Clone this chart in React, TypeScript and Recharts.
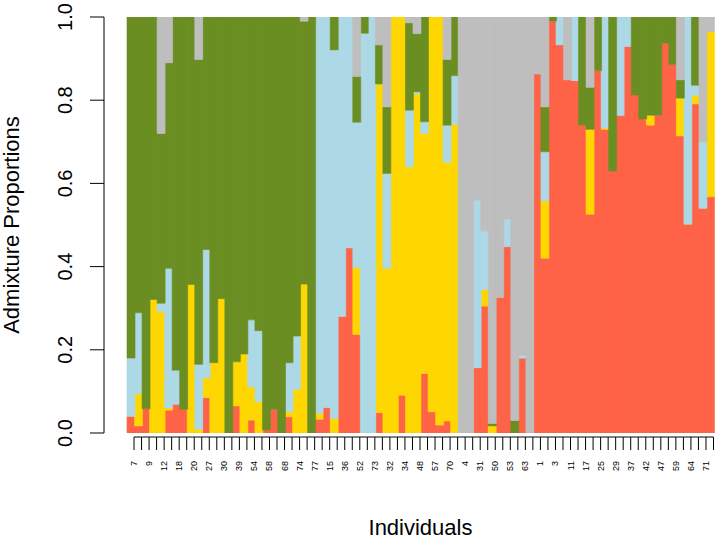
import { BarChart, Bar, XAxis, YAxis } from 'recharts';

// individual ids in plotted order (only every other one is labelled on the axis)
const ids = [
  7, 8, 9, 10, 12, 14, 18, 19, 20, 22, 27, 28, 30, 38, 39, 45, 54, 55, 58, 61, 68, 69, 74, 75, 77,
  13, 15, 21, 36, 44, 52, 60, 73,
  23, 32, 33, 34, 41, 48, 49, 57, 62, 70, 72,
  4, 6, 31, 43, 50, 51, 53, 56, 63, 65,
  1, 2, 3, 5, 11, 16, 17, 24, 25, 26, 29, 35, 37, 40, 42, 46, 47, 66, 59, 67, 64, 76, 71, 78,
];

// ancestry proportions per cluster, bottom to top
const k1 = [
  0.04, 0.017, 0.058, 0, 0, 0.055, 0.069, 0.057, 0, 0, 0.085, 0, 0, 0, 0.065, 0, 0.031, 0, 0.007, 0.057, 0, 0.039, 0, 0, 0,
  0.033, 0.061, 0, 0.28, 0.445, 0.237, 0, 0,
  0.049, 0, 0, 0.091, 0, 0, 0.143, 0.051, 0.019, 0.029, 0,
  0, 0, 0.157, 0.305, 0, 0.326, 0.448, 0, 0.18, 0,
  0.863, 0.42, 0.99, 0.933, 0.849, 0.847, 0.74, 0.526, 0.871, 0.73, 0.63, 0.763, 0.929, 0.8125, 0.755, 0.74, 0.764, 0.937, 0.886, 0.714, 0.502, 0.791, 0.54, 0.568,
];
const k2 = [
  0, 0.078, 0, 0.321, 0.292, 0.005, 0, 0, 0.357, 0.009, 0.048, 0.169, 0.323, 0, 0.106, 0.19, 0.08, 0.075, 0, 0, 0, 0.012, 0.105, 0.358, 0,
  0.014, 0, 0.035, 0, 0, 0.161, 0, 0,
  0.79, 0.396, 1, 0.909, 0.64, 0.815, 0.577, 0.949, 0.981, 0.622, 0.742,
  0, 0, 0, 0.04, 0.017, 0, 0, 0, 0, 0,
  0, 0.138, 0, 0, 0, 0, 0, 0.204, 0, 0.003, 0, 0, 0, 0, 0, 0.024, 0, 0, 0, 0.091, 0, 0.021, 0, 0.397,
];
const k3 = [
  0.14, 0.194, 0, 0, 0.02, 0.336, 0.082, 0, 0, 0.156, 0.308, 0, 0, 0, 0, 0, 0.161, 0.171, 0, 0, 0, 0.118, 0.128, 0, 0,
  0.953, 0.939, 0.886, 0.72, 0.555, 0.349, 0.961, 1,
  0, 0.228, 0, 0, 0.136, 0.005, 0.028, 0, 0, 0.089, 0.117,
  0, 0, 0.403, 0.141, 0, 0, 0.066, 0, 0.007, 0,
  0, 0.118, 0, 0.067, 0, 0.153, 0, 0, 0, 0.267, 0, 0.237, 0.071, 0, 0, 0, 0, 0, 0, 0, 0.498, 0.024, 0.16, 0,
];
const k4 = [
  0.82, 0.711, 0.942, 0.679, 0.408, 0.494, 0.849, 0.943, 0.643, 0.733, 0.559, 0.831, 0.677, 1, 0.829, 0.81, 0.728, 0.754, 0.993, 0.943, 1, 0.831, 0.767, 0.632, 1,
  0, 0, 0.079, 0, 0, 0.11, 0.039, 0,
  0.094, 0.16, 0, 0, 0.21, 0.14, 0.252, 0, 0, 0.158, 0.141,
  0, 0, 0, 0, 0.006, 0, 0, 0.03, 0, 0,
  0, 0.108, 0.01, 0, 0, 0, 0.26, 0.101, 0.129, 0, 0.37, 0, 0, 0.1875, 0.245, 0.236, 0.236, 0.063, 0.114, 0.044, 0, 0.164, 0, 0,
];
const k5 = [
  0, 0, 0, 0, 0.28, 0.11, 0, 0, 0, 0.102, 0, 0, 0, 0, 0, 0, 0, 0, 0, 0, 0, 0, 0, 0.01, 0,
  0, 0, 0, 0, 0, 0.143, 0, 0,
  0.067, 0.216, 0, 0, 0.014, 0.04, 0, 0, 0, 0.102, 0,
  1, 1, 0.44, 0.514, 0.977, 0.674, 0.486, 0.97, 0.813, 1,
  0.137, 0.216, 0, 0, 0.151, 0, 0, 0.169, 0, 0, 0, 0, 0, 0, 0, 0, 0, 0, 0, 0.151, 0, 0, 0.3, 0.035,
];

const yTicks = [0, 0.2, 0.4, 0.6, 0.8, 1];

const clusters = [
  { key: 'k1', color: '#FF6347' },
  { key: 'k2', color: '#FFD700' },
  { key: 'k3', color: '#ADD8E6' },
  { key: 'k4', color: '#6B8E23' },
  { key: 'k5', color: '#BEBEBE' },
];

const data = ids.map((id, i) => ({
  id: String(id),
  k1: k1[i],
  k2: k2[i],
  k3: k3[i],
  k4: k4[i],
  k5: k5[i],
}));

const W = 717;
const H = 541;
const PAD_LEFT = 23;
const BAND = (W - 104 - 3 - PAD_LEFT) / ids.length;
const FONT = '"Liberation Sans", Arial, Helvetica, sans-serif';

const XTick = (props: any) => {
  const { x, y, payload, index } = props;
  const tx = x + BAND / 2 - 0.5;
  return (
    <g>
      {index > 0 && <line x1={tx - BAND} y1={y + 4} x2={tx} y2={y + 4} stroke="#000" />}
      <line x1={tx} y1={y + 4} x2={tx} y2={y + 17} stroke="#000" />
      {index % 2 === 0 && (
        <text
          x={tx + 3}
          y={y + 28}
          transform={`rotate(-90 ${tx + 3} ${y + 28})`}
          textAnchor="end"
          fontSize={9}
          fill="#000"
        >
          {payload.value}
        </text>
      )}
    </g>
  );
};

const YTick = (props: any) => {
  const { x, y, payload } = props;
  return (
    <text x={x} y={y} transform={`rotate(-90 ${x} ${y})`} textAnchor="middle" fontSize={20} fill="#000">
      {Number(payload.value).toFixed(1)}
    </text>
  );
};

export default function App() {
  return (
    <div style={{ width: W, height: H, background: '#fff', fontFamily: FONT }}>
      <style>{'body{margin:0}'}</style>
      <BarChart
        width={W}
        height={H}
        data={data}
        margin={{ top: 17, right: 3, bottom: 0, left: 0 }}
        barCategoryGap={0}
        barGap={0}
        style={{ fontFamily: FONT }}
      >
        <XAxis
          dataKey="id"
          type="category"
          interval={0}
          height={108}
          padding={{ left: PAD_LEFT, right: 0 }}
          axisLine={false}
          tickLine={false}
          tickSize={0}
          tickMargin={0}
          tick={<XTick />}
          label={{
            content: (p: any) => {
              const vb = p.viewBox;
              const cx = vb.x + PAD_LEFT + (vb.width - PAD_LEFT) / 2;
              return (
                <text x={cx} y={535} textAnchor="middle" fontSize={22} fill="#000">
                  Individuals
                </text>
              );
            },
          }}
        />
        <YAxis
          type="number"
          domain={[0, 1]}
          allowDataOverflow
          ticks={yTicks}
          width={104}
          axisLine={{ stroke: '#000' }}
          tickLine={{ stroke: '#000' }}
          tickSize={14}
          tickMargin={18}
          tick={<YTick />}
          label={{
            content: (p: any) => {
              const vb = p.viewBox;
              const cy = vb.y + vb.height / 2;
              return (
                <text x={19} y={cy} transform={`rotate(-90 19 ${cy})`} textAnchor="middle" fontSize={22} fill="#000">
                  Admixture Proportions
                </text>
              );
            },
          }}
        />
        {clusters.map((c) => (
          <Bar
            key={c.key}
            dataKey={c.key}
            stackId="q"
            fill={c.color}
            stroke={c.color}
            strokeWidth={0.6}
            isAnimationActive={false}
          />
        ))}
      </BarChart>
    </div>
  );
}
